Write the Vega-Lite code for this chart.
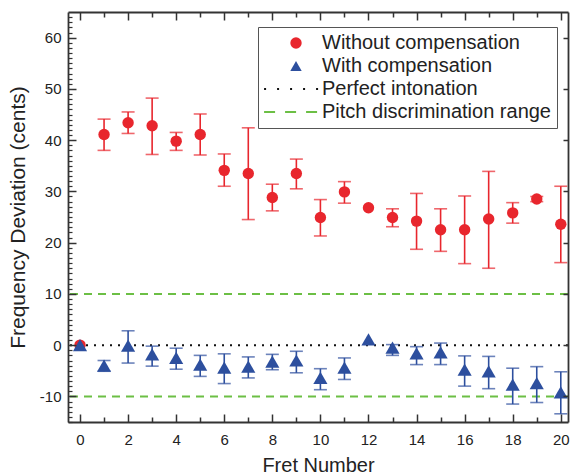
{
  "$schema": "https://vega.github.io/schema/vega-lite/v6.json",
  "width": 500,
  "height": 410,
  "autosize": {"type": "none"},
  "padding": {"left": 68, "top": 12, "right": 2, "bottom": 53},
  "background": "white",
  "config": {
    "font": "Liberation Sans",
    "view": {"stroke": null},
    "axis": {"grid": false, "domainColor": "#333", "tickColor": "#333", "labelColor": "#222", "titleColor": "#222", "labelFont": "Liberation Sans", "titleFont": "Liberation Sans", "titleFontWeight": "normal"}
  },
  "datasets": {
    "pts": [
      {"fret": 0, "series": "Without compensation", "val": 0, "lo": null, "hi": null},
      {"fret": 1, "series": "Without compensation", "val": 41.1, "lo": 38.0, "hi": 44.1},
      {"fret": 2, "series": "Without compensation", "val": 43.4, "lo": 41.3, "hi": 45.5},
      {"fret": 3, "series": "Without compensation", "val": 42.8, "lo": 37.2, "hi": 48.2},
      {"fret": 4, "series": "Without compensation", "val": 39.8, "lo": 38.0, "hi": 41.5},
      {"fret": 5, "series": "Without compensation", "val": 41.1, "lo": 37.1, "hi": 45.1},
      {"fret": 6, "series": "Without compensation", "val": 34.1, "lo": 31.0, "hi": 37.3},
      {"fret": 7, "series": "Without compensation", "val": 33.5, "lo": 24.5, "hi": 42.4},
      {"fret": 8, "series": "Without compensation", "val": 28.8, "lo": 26.2, "hi": 31.4},
      {"fret": 9, "series": "Without compensation", "val": 33.5, "lo": 30.5, "hi": 36.3},
      {"fret": 10, "series": "Without compensation", "val": 24.9, "lo": 21.3, "hi": 28.4},
      {"fret": 11, "series": "Without compensation", "val": 29.9, "lo": 27.7, "hi": 31.9},
      {"fret": 12, "series": "Without compensation", "val": 26.8, "lo": null, "hi": null},
      {"fret": 13, "series": "Without compensation", "val": 24.9, "lo": 23.1, "hi": 26.6},
      {"fret": 14, "series": "Without compensation", "val": 24.2, "lo": 18.7, "hi": 29.6},
      {"fret": 15, "series": "Without compensation", "val": 22.5, "lo": 18.3, "hi": 26.6},
      {"fret": 16, "series": "Without compensation", "val": 22.5, "lo": 15.9, "hi": 29.1},
      {"fret": 17, "series": "Without compensation", "val": 24.6, "lo": 15.0, "hi": 33.9},
      {"fret": 18, "series": "Without compensation", "val": 25.8, "lo": 23.8, "hi": 27.8},
      {"fret": 19, "series": "Without compensation", "val": 28.5, "lo": 28.0, "hi": 29.0},
      {"fret": 20, "series": "Without compensation", "val": 23.6, "lo": 16.1, "hi": 31.0},
      {"fret": 0, "series": "With compensation", "val": 0, "lo": null, "hi": null},
      {"fret": 1, "series": "With compensation", "val": -4.0, "lo": -5.1, "hi": -3.0},
      {"fret": 2, "series": "With compensation", "val": -0.1, "lo": -3.5, "hi": 2.8},
      {"fret": 3, "series": "With compensation", "val": -1.8, "lo": -4.1, "hi": -0.2},
      {"fret": 4, "series": "With compensation", "val": -2.5, "lo": -4.7, "hi": -0.6},
      {"fret": 5, "series": "With compensation", "val": -3.8, "lo": -6.1, "hi": -2.0},
      {"fret": 6, "series": "With compensation", "val": -4.4, "lo": -7.5, "hi": -1.7},
      {"fret": 7, "series": "With compensation", "val": -4.2, "lo": -6.4, "hi": -2.3},
      {"fret": 8, "series": "With compensation", "val": -3.2, "lo": -4.8, "hi": -1.8},
      {"fret": 9, "series": "With compensation", "val": -3.0, "lo": -5.4, "hi": -1.2},
      {"fret": 10, "series": "With compensation", "val": -6.4, "lo": -8.7, "hi": -4.6},
      {"fret": 11, "series": "With compensation", "val": -4.4, "lo": -6.7, "hi": -2.5},
      {"fret": 12, "series": "With compensation", "val": 1.1, "lo": null, "hi": null},
      {"fret": 13, "series": "With compensation", "val": -0.5, "lo": -2.0, "hi": 0.1},
      {"fret": 14, "series": "With compensation", "val": -1.6, "lo": -3.8, "hi": -0.3},
      {"fret": 15, "series": "With compensation", "val": -1.4, "lo": -3.8, "hi": 0.4},
      {"fret": 16, "series": "With compensation", "val": -4.8, "lo": -8.0, "hi": -2.1},
      {"fret": 17, "series": "With compensation", "val": -5.1, "lo": -8.5, "hi": -2.2},
      {"fret": 18, "series": "With compensation", "val": -7.7, "lo": -11.5, "hi": -4.5},
      {"fret": 19, "series": "With compensation", "val": -7.4, "lo": -11.2, "hi": -4.2},
      {"fret": 20, "series": "With compensation", "val": -9.2, "lo": -13.4, "hi": -5.2}
    ],
    "refs": [
      {"kind": "Pitch discrimination range", "y": 10},
      {"kind": "Pitch discrimination range", "y": -10},
      {"kind": "Perfect intonation", "y": 0}
    ]
  },
  "resolve": {"scale": {"x": "shared", "y": "shared"}, "axis": {"x": "independent", "y": "independent"}},
  "layer": [
    {
      "data": {"name": "refs"},
      "transform": [{"filter": "datum.kind === 'Pitch discrimination range'"}],
      "mark": {"type": "rule", "color": "#6cbf45", "strokeWidth": 2, "strokeDash": [8, 6]},
      "encoding": {
        "y": {"field": "y", "type": "quantitative", "scale": {"domain": [-15, 65], "nice": false, "zero": false}, "axis": null}
      }
    },
    {
      "data": {"name": "refs"},
      "transform": [{"filter": "datum.kind === 'Perfect intonation'"}],
      "mark": {"type": "rule", "color": "#111", "strokeWidth": 2, "strokeDash": [2, 6]},
      "encoding": {
        "y": {"field": "y", "type": "quantitative", "scale": {"domain": [-15, 65], "nice": false, "zero": false}, "axis": null}
      }
    },
    {
      "data": {"name": "pts"},
      "transform": [{"filter": "datum.series === 'Without compensation' && datum.lo != null"}],
      "mark": {"type": "errorbar", "color": "#e8262d", "thickness": 1.6, "ticks": {"size": 13, "thickness": 1.6, "color": "#e8262d"}},
      "encoding": {
        "x": {"field": "fret", "type": "quantitative", "scale": {"domain": [-0.5, 20.3], "nice": false, "zero": false}, "axis": null},
        "y": {"field": "lo", "type": "quantitative", "scale": {"domain": [-15, 65], "nice": false, "zero": false}, "axis": null},
        "y2": {"field": "hi"}
      }
    },
    {
      "data": {"name": "pts"},
      "transform": [{"filter": "datum.series === 'Without compensation'"}],
      "mark": {"type": "point", "filled": true, "opacity": 1, "size": 130, "strokeWidth": 2},
      "encoding": {
        "x": {"field": "fret", "type": "quantitative", "scale": {"domain": [-0.5, 20.3], "nice": false, "zero": false}, "axis": null},
        "y": {"field": "val", "type": "quantitative", "scale": {"domain": [-15, 65], "nice": false, "zero": false}, "axis": null},
        "fill": {
          "field": "series", "type": "nominal",
          "scale": {"domain": ["Without compensation", "With compensation", "Perfect intonation", "Pitch discrimination range"], "range": ["#e8262d", "#2d4f9e", "transparent", "transparent"]},
          "legend": {
            "title": null, "orient": "none", "legendX": 190, "legendY": 15,
            "padding": 6, "strokeColor": "#555", "fillColor": "white",
            "labelFontSize": 20, "labelFont": "Liberation Sans", "labelColor": "#222", "labelLimit": 400,
            "rowPadding": 3, "symbolSize": 130, "symbolOffset": 22, "labelOffset": 16,
            "symbolStrokeWidth": 2, "symbolOpacity": 1
          }
        },
        "stroke": {
          "field": "series", "type": "nominal",
          "scale": {"domain": ["Without compensation", "With compensation", "Perfect intonation", "Pitch discrimination range"], "range": ["transparent", "transparent", "#111111", "#6cbf45"]},
          "legend": {"title": null}
        },
        "shape": {
          "field": "series", "type": "nominal",
          "scale": {"domain": ["Without compensation", "With compensation", "Perfect intonation", "Pitch discrimination range"], "range": ["circle", "triangle-up", "M-5.6,0H4.0", "M-5.6,0H4.0"]},
          "legend": {"title": null}
        },
        "strokeDash": {
          "field": "series", "type": "nominal",
          "scale": {"domain": ["Without compensation", "With compensation", "Perfect intonation", "Pitch discrimination range"], "range": [[1, 0], [1, 0], [2, 11], [11, 10]]},
          "legend": {"title": null}
        }
      }
    },
    {
      "data": {"name": "pts"},
      "transform": [{"filter": "datum.series === 'With compensation' && datum.lo != null"}],
      "mark": {"type": "errorbar", "color": "#2d4f9e", "thickness": 1.6, "ticks": {"size": 13, "thickness": 1.6, "color": "#2d4f9e"}},
      "encoding": {
        "x": {"field": "fret", "type": "quantitative", "scale": {"domain": [-0.5, 20.3], "nice": false, "zero": false}, "axis": null},
        "y": {"field": "lo", "type": "quantitative", "scale": {"domain": [-15, 65], "nice": false, "zero": false}, "axis": null},
        "y2": {"field": "hi"}
      }
    },
    {
      "data": {"name": "pts"},
      "transform": [{"filter": "datum.series === 'With compensation'"}],
      "mark": {"type": "point", "shape": "triangle-up", "filled": true, "opacity": 1, "size": 200, "color": "#2d4f9e"},
      "encoding": {
        "x": {"field": "fret", "type": "quantitative", "scale": {"domain": [-0.5, 20.3], "nice": false, "zero": false}, "axis": null},
        "y": {"field": "val", "type": "quantitative", "scale": {"domain": [-15, 65], "nice": false, "zero": false}, "axis": null}
      }
    },
    {
      "data": {"name": "pts"},
      "mark": {"type": "point", "opacity": 0},
      "encoding": {
        "x": {"field": "fret", "type": "quantitative", "scale": {"domain": [-0.5, 20.3], "nice": false, "zero": false},
          "axis": {"orient": "bottom", "values": [0, 2, 4, 6, 8, 10, 12, 14, 16, 18, 20], "ticks": false, "domain": true, "domainWidth": 1.8, "labelFontSize": 15, "labelPadding": 10, "title": "Fret Number", "titleFontSize": 20, "titlePadding": 8, "zindex": 1}},
        "y": {"field": "val", "type": "quantitative", "scale": {"domain": [-15, 65], "nice": false, "zero": false},
          "axis": {"orient": "left", "values": [-10, 0, 10, 20, 30, 40, 50, 60], "labelExpr": "'' + datum.value", "ticks": false, "domain": true, "domainWidth": 1.8, "labelFontSize": 15, "labelPadding": 7, "title": "Frequency Deviation (cents)", "titleFontSize": 21, "titlePadding": 11, "zindex": 1}}
      }
    },
    {
      "data": {"name": "pts"},
      "mark": {"type": "point", "opacity": 0},
      "encoding": {
        "x": {"field": "fret", "type": "quantitative", "scale": {"domain": [-0.5, 20.3], "nice": false, "zero": false},
          "axis": {"orient": "bottom", "values": [0, 2, 4, 6, 8, 10, 12, 14, 16, 18, 20], "labels": false, "domain": false, "tickSize": -8, "tickWidth": 1.5, "title": null, "zindex": 1}},
        "y": {"field": "val", "type": "quantitative", "scale": {"domain": [-15, 65], "nice": false, "zero": false},
          "axis": {"orient": "left", "values": [-10, 0, 10, 20, 30, 40, 50, 60], "labels": false, "domain": false, "tickSize": -8, "tickWidth": 1.5, "title": null, "zindex": 1}}
      }
    },
    {
      "data": {"name": "pts"},
      "mark": {"type": "point", "opacity": 0},
      "encoding": {
        "x": {"field": "fret", "type": "quantitative", "scale": {"domain": [-0.5, 20.3], "nice": false, "zero": false},
          "axis": {"orient": "bottom", "values": [1, 3, 5, 7, 9, 11, 13, 15, 17, 19], "labels": false, "domain": false, "tickSize": -5, "tickWidth": 1.5, "title": null, "zindex": 1}},
        "y": {"field": "val", "type": "quantitative", "scale": {"domain": [-15, 65], "nice": false, "zero": false},
          "axis": {"orient": "left", "values": [-15, -14, -13, -12, -11, -9, -8, -7, -6, -5, -4, -3, -2, -1, 1, 2, 3, 4, 5, 6, 7, 8, 9, 11, 12, 13, 14, 15, 16, 17, 18, 19, 21, 22, 23, 24, 25, 26, 27, 28, 29, 31, 32, 33, 34, 35, 36, 37, 38, 39, 41, 42, 43, 44, 45, 46, 47, 48, 49, 51, 52, 53, 54, 55, 56, 57, 58, 59, 61, 62, 63, 64], "labels": false, "domain": false, "tickSize": -4, "tickWidth": 1.2, "title": null, "zindex": 1}}
      }
    },
    {
      "data": {"name": "pts"},
      "mark": {"type": "point", "opacity": 0},
      "encoding": {
        "x": {"field": "fret", "type": "quantitative", "scale": {"domain": [-0.5, 20.3], "nice": false, "zero": false},
          "axis": {"orient": "top", "values": [0, 2, 4, 6, 8, 10, 12, 14, 16, 18, 20], "labels": false, "domain": true, "domainWidth": 1.8, "tickSize": -8, "tickWidth": 1.5, "title": null, "zindex": 1}},
        "y": {"field": "val", "type": "quantitative", "scale": {"domain": [-15, 65], "nice": false, "zero": false},
          "axis": {"orient": "right", "values": [-10, 0, 10, 20, 30, 40, 50, 60], "labels": false, "domain": true, "domainWidth": 1.8, "tickSize": -5, "tickWidth": 1.5, "title": null, "zindex": 1}}
      }
    },
    {
      "data": {"name": "pts"},
      "mark": {"type": "point", "opacity": 0},
      "encoding": {
        "x": {"field": "fret", "type": "quantitative", "scale": {"domain": [-0.5, 20.3], "nice": false, "zero": false},
          "axis": {"orient": "top", "values": [1, 3, 5, 7, 9, 11, 13, 15, 17, 19], "labels": false, "domain": false, "tickSize": -5, "tickWidth": 1.5, "title": null, "zindex": 1}},
        "y": {"field": "val", "type": "quantitative", "scale": {"domain": [-15, 65], "nice": false, "zero": false}, "axis": null}
      }
    }
  ]
}
